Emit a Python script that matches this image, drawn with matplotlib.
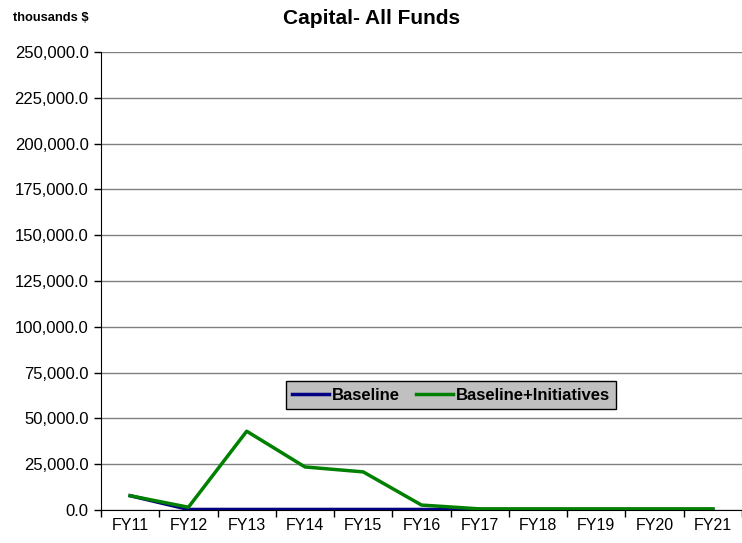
import matplotlib
matplotlib.use("Agg")
import matplotlib.pyplot as plt
from matplotlib.ticker import FuncFormatter, MultipleLocator, FixedLocator
import numpy as np

plt.rcParams['font.family'] = ['Liberation Sans', 'DejaVu Sans']

categories = ["FY11", "FY12", "FY13", "FY14", "FY15", "FY16", "FY17", "FY18", "FY19", "FY20", "FY21"]
baseline = [7800, 300, 300, 300, 300, 300, 300, 300, 300, 300, 300]
baseline_init = [7800, 1500, 43000, 23500, 20800, 2700, 600, 600, 600, 600, 600]

fig = plt.figure(figsize=(7.42, 5.43), dpi=100)
ax = fig.add_axes([101/742, 33/543, 641/742, 458/543])

x = np.arange(len(categories))
ax.plot(x, baseline, color="#000080", lw=2.5, label="Baseline", zorder=3)
ax.plot(x, baseline_init, color="#008000", lw=2.5, label="Baseline+Initiatives", zorder=4)

ax.set_xlim(-0.5, len(categories) - 0.5)
ax.set_ylim(0, 250000)
ax.yaxis.set_major_locator(MultipleLocator(25000))
ax.yaxis.set_major_formatter(FuncFormatter(lambda v, p: f"{v:,.1f}"))
ax.grid(axis="y", color="#808080", lw=1)
ax.set_axisbelow(True)

ax.set_xticks(x)
ax.set_xticklabels(categories)
ax.xaxis.set_minor_locator(FixedLocator(np.arange(-0.5, len(categories), 1)))
ax.tick_params(axis="x", which="major", length=0, labelsize=11.5, pad=6)
ax.tick_params(axis="x", which="minor", length=5, width=1, direction="out")
ax.tick_params(axis="y", length=5, width=1, direction="out", labelsize=12, pad=4)

for s in ["top", "right"]:
    ax.spines[s].set_visible(False)
ax.spines["left"].set_color("black")
ax.spines["bottom"].set_color("black")

fig.text(372/742, 1 - 18/543, "Capital- All Funds", ha="center", va="center",
         fontsize=15, fontweight="bold")
fig.text(13/742, 1 - 18/543, "thousands $", ha="left", va="center",
         fontsize=9.3, fontweight="bold")

leg = ax.legend(loc="center", bbox_to_anchor=((451 - 101) / 641, (543 - 395 - 33) / 458),
                ncol=2, frameon=True, fancybox=False, facecolor="#c0c0c0",
                edgecolor="black", framealpha=1, fontsize=12, handlelength=2.2,
                handletextpad=0.15, columnspacing=1.0, borderpad=0.4)
for t in leg.get_texts():
    t.set_fontweight("bold")
leg.get_frame().set_linewidth(1)

fig.savefig("out.png", dpi=100)
